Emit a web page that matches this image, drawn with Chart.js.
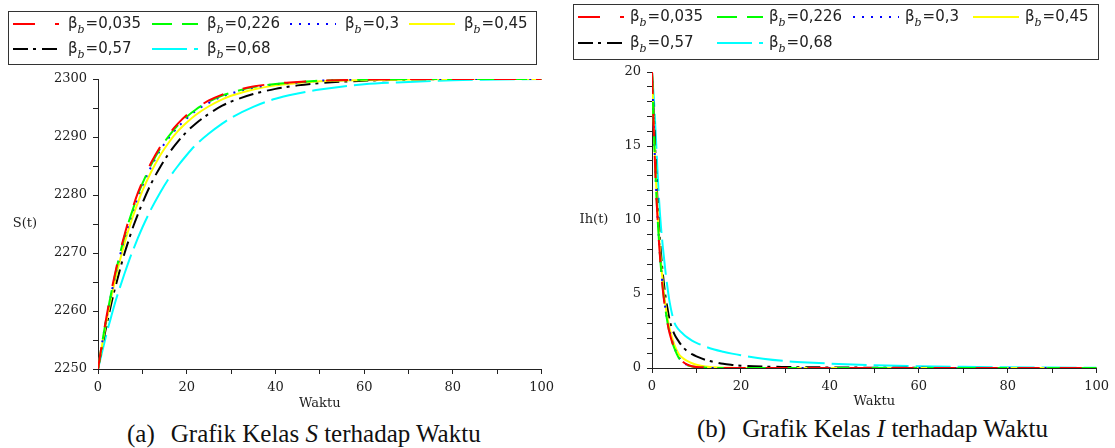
<!DOCTYPE html>
<html>
<head>
<meta charset="utf-8">
<script src="https://cdn.jsdelivr.net/npm/chart.js@4.4.1/dist/chart.umd.min.js"></script>
<style>
    body { margin: 0; background: #fff; width: 1115px; height: 448px; position: relative; overflow: hidden; }
    .kotak { position: absolute; top: 0; }
    .keterangan { position: absolute; font-family: "Liberation Serif", serif; font-size: 25px; color: #111; white-space: nowrap; }
    .keterangan span { margin-left: 16px; }
</style>
</head>
<body>
<div class="kotak" style="left:0"><canvas id="grafikS" width="560" height="415"></canvas></div>
<div class="kotak" style="left:560px"><canvas id="grafikI" width="555" height="415"></canvas></div>
<div class="keterangan" style="left:127px;top:420px">(a)<span>Grafik Kelas <i>S</i> terhadap Waktu</span></div>
<div class="keterangan" style="left:697px;top:415px">(b)<span>Grafik Kelas <i>I</i> terhadap Waktu</span></div>

<script>
// nilai beta_b tiap kurva
const nilaiBeta = ['0,035', '0,226', '0,3', '0,45', '0,57', '0,68'];

// waktu dan S(t)
const waktuS = [0, 1, 2, 3, 4, 5, 6, 7, 8, 9, 10, 12, 14, 16, 18, 20, 22, 25, 28, 30, 35, 40, 45, 50, 60, 70, 80, 90, 100];
const sBeta035 = [2250, 2254.9, 2259.4, 2263.4, 2267.0, 2270.3, 2273.2, 2275.9, 2278.2, 2280.4, 2282.3, 2285.6, 2288.3, 2290.5, 2292.3, 2293.8, 2294.9, 2296.3, 2297.3, 2297.8, 2298.7, 2299.2, 2299.5, 2299.7, 2299.9, 2300, 2300, 2300, 2300];
const sBeta226 = [2250, 2254.85, 2259.25, 2263.2, 2266.75, 2270.0, 2272.9, 2275.55, 2277.85, 2280.05, 2281.95, 2285.25, 2288.0, 2290.2, 2292.0, 2293.5, 2294.7, 2296.1, 2297.15, 2297.65, 2298.6, 2299.15, 2299.45, 2299.7, 2299.9, 2300, 2300, 2300, 2300];
const sBeta3 = [2250, 2254.8, 2259.1, 2263.0, 2266.5, 2269.7, 2272.6, 2275.2, 2277.5, 2279.7, 2281.6, 2284.9, 2287.7, 2289.9, 2291.7, 2293.2, 2294.5, 2295.9, 2297.0, 2297.5, 2298.5, 2299.1, 2299.4, 2299.7, 2299.9, 2300, 2300, 2300, 2300];
const sBeta45 = [2250, 2254.5, 2258.6, 2262.4, 2265.8, 2268.9, 2271.7, 2274.3, 2276.6, 2278.7, 2280.7, 2284.0, 2286.8, 2289.1, 2291.0, 2292.5, 2293.8, 2295.3, 2296.5, 2297.1, 2298.2, 2298.9, 2299.3, 2299.6, 2299.8, 2299.9, 2300, 2300, 2300];
const sBeta57 = [2250, 2254.1, 2257.8, 2261.3, 2264.4, 2267.3, 2270.0, 2272.4, 2274.7, 2276.7, 2278.6, 2282.0, 2284.8, 2287.2, 2289.2, 2290.9, 2292.3, 2294.0, 2295.4, 2296.1, 2297.4, 2298.3, 2298.9, 2299.3, 2299.7, 2299.9, 2300, 2300, 2300];
const sBeta68 = [2250, 2253.2, 2256.3, 2259.1, 2261.8, 2264.2, 2266.5, 2268.7, 2270.7, 2272.6, 2274.4, 2277.6, 2280.4, 2282.9, 2285.0, 2286.9, 2288.6, 2290.6, 2292.3, 2293.3, 2295.2, 2296.6, 2297.5, 2298.2, 2299.1, 2299.5, 2299.8, 2299.9, 2300];

// waktu dan Ih(t)
const waktuI = [0, 0.5, 1, 1.5, 2, 2.5, 3, 3.5, 4, 5, 6, 7, 8, 9, 10, 12, 14, 16, 18, 20, 25, 30, 35, 40, 50, 60, 70, 80, 90, 100];
const iBeta035 = [20, 15.2, 11.5, 8.8, 6.7, 5.1, 3.9, 3.0, 2.3, 1.35, 0.75, 0.4, 0.22, 0.12, 0.07, 0.02, 0.01, 0, 0, 0, 0, 0, 0, 0, 0, 0, 0, 0, 0, 0];
const iBeta226 = [20, 15.3, 11.6, 8.9, 6.8, 5.2, 4.0, 3.05, 2.3, 1.35, 0.7, 0.35, 0.18, 0.1, 0.05, 0.02, 0, 0, 0, 0, 0, 0, 0, 0, 0, 0, 0, 0, 0, 0];
const iBeta3 = [20, 15.4, 11.7, 9.0, 6.9, 5.3, 4.05, 3.1, 2.4, 1.4, 0.75, 0.38, 0.2, 0.11, 0.06, 0.02, 0, 0, 0, 0, 0, 0, 0, 0, 0, 0, 0, 0, 0, 0];
const iBeta45 = [20, 15.5, 12.0, 9.3, 7.2, 5.6, 4.3, 3.35, 2.6, 1.6, 0.95, 0.65, 0.47, 0.32, 0.22, 0.1, 0.05, 0.02, 0.01, 0, 0, 0, 0, 0, 0, 0, 0, 0, 0, 0];
const iBeta57 = [20, 16.5, 12.8, 9.9, 7.8, 6.2, 4.9, 4.0, 3.2, 2.3, 1.8, 1.4, 1.12, 0.93, 0.78, 0.55, 0.4, 0.28, 0.21, 0.16, 0.1, 0.07, 0.05, 0.04, 0.02, 0.01, 0, 0, 0, 0];
const iBeta68 = [20, 17.8, 14.8, 11.8, 9.6, 8.0, 6.6, 5.4, 4.4, 3.1, 2.6, 2.3, 2.05, 1.85, 1.7, 1.45, 1.25, 1.1, 0.97, 0.86, 0.63, 0.47, 0.37, 0.3, 0.19, 0.12, 0.08, 0.05, 0.03, 0.02];

const warnaGaris = ['#ff0000', '#00ff00', '#0000ff', '#ffff00', '#000000', '#00ffff'];
const polaGaris = [[22, 20], [20, 10], [2, 7], [], [15, 5, 3, 6], [35, 7]];

const warnaTeks = '#222';
const fonTick = { family: '"DejaVu Serif", serif', size: 13 };

// legenda kotak dengan beta subskrip b
const pluginLegenda = {
    id: 'legendaBeta',
    afterDraw(chart, args, opsi) {
        const ctx = chart.ctx;
        ctx.save();
        ctx.strokeStyle = '#333';
        ctx.lineWidth = 1;
        ctx.strokeRect(opsi.kotak[0] + 0.5, opsi.kotak[1] + 0.5, opsi.kotak[2], opsi.kotak[3]);
        ctx.textBaseline = 'middle';
        chart.data.datasets.forEach((d, i) => {
            const x = opsi.kolom[i % 4];
            const y = opsi.baris[Math.floor(i / 4)];
            ctx.beginPath();
            ctx.setLineDash(d.borderDash);
            ctx.strokeStyle = d.borderColor;
            ctx.lineWidth = 2;
            ctx.moveTo(x, y);
            ctx.lineTo(x + opsi.panjang, y);
            ctx.stroke();
            ctx.setLineDash([]);

            let tx = x + opsi.jarak;
            ctx.fillStyle = warnaTeks;
            ctx.font = '15px "DejaVu Sans"';
            ctx.fillText('β', tx, y);
            tx += ctx.measureText('β').width;
            ctx.font = 'italic 11px "DejaVu Serif"';
            ctx.fillText('b', tx, y + 6);
            tx += ctx.measureText('b').width + 1;
            ctx.font = '15px "DejaVu Sans"';
            ctx.fillText('=' + nilaiBeta[i], tx, y);
        });
        ctx.restore();
    }
};

// label sumbu y mendatar
const pluginLabelY = {
    id: 'labelY',
    afterDraw(chart, args, opsi) {
        const ctx = chart.ctx;
        const area = chart.chartArea;
        ctx.save();
        ctx.fillStyle = warnaTeks;
        ctx.font = '13px "DejaVu Serif"';
        ctx.textAlign = 'center';
        ctx.textBaseline = 'middle';
        ctx.fillText(opsi.teks, opsi.x, (area.top + area.bottom) / 2);
        ctx.restore();
    }
};

function buatDataset(waktu, seri) {
    return seri.map((nilai, i) => ({
        label: 'βb=' + nilaiBeta[i],
        data: nilai.map((v, j) => ({ x: waktu[j], y: v })),
        borderColor: warnaGaris[i],
        borderDash: polaGaris[i],
        borderWidth: 2,
        pointRadius: 0,
        fill: false,
        cubicInterpolationMode: 'monotone'
    }));
}

function buatGrafik(canvas, datasets, skala, legenda, labelY, padding) {
    let options = {
        responsive: false,
        animation: false,
        devicePixelRatio: 1,
        layout: { padding: padding },
        plugins: {
            legend: { display: false },
            tooltip: { enabled: false },
            legendaBeta: legenda,
            labelY: labelY
        },
        scales: {
            x: {
                type: 'linear',
                min: 0,
                max: 100,
                border: { color: '#222', width: 1 },
                grid: { drawOnChartArea: false, drawTicks: true, tickLength: 5, color: '#222' },
                ticks: {
                    stepSize: 10,
                    autoSkip: false,
                    maxRotation: 0,
                    padding: 6,
                    color: warnaTeks,
                    font: fonTick,
                    callback: (v) => v % 20 === 0 ? v : ''
                },
                title: {
                    display: true,
                    text: 'Waktu',
                    color: warnaTeks,
                    font: fonTick,
                    padding: { top: 0, bottom: skala.judulBawah }
                },
                afterFit: (s) => { s.height = skala.tinggiX; }
            },
            y: {
                min: skala.min,
                max: skala.max,
                border: { color: '#222', width: 1 },
                grid: { drawOnChartArea: false, drawTicks: true, tickLength: 5, color: '#222' },
                ticks: {
                    stepSize: skala.langkah,
                    autoSkip: false,
                    padding: 6,
                    color: warnaTeks,
                    font: fonTick,
                    callback: (v) => v % skala.label === 0 ? v : ''
                },
                afterFit: (s) => { s.width = skala.lebarY; }
            }
        }
    };

    return new Chart(canvas, {
        type: 'line',
        data: { datasets: datasets },
        options: options,
        plugins: [pluginLegenda, pluginLabelY]
    });
}

buatGrafik(
    document.getElementById('grafikS'),
    buatDataset(waktuS, [sBeta035, sBeta226, sBeta3, sBeta45, sBeta57, sBeta68]),
    { min: 2250, max: 2300, langkah: 5, label: 10, lebarY: 98, tinggiX: 46, judulBawah: 4 },
    { kotak: [8, 11, 528, 53], kolom: [13, 152, 290, 409], baris: [24, 49], panjang: 46, jarak: 55 },
    { teks: 'S(t)', x: 25 },
    { top: 79, right: 17, left: 0, bottom: 0 }
);

buatGrafik(
    document.getElementById('grafikI'),
    buatDataset(waktuI, [iBeta035, iBeta226, iBeta3, iBeta45, iBeta57, iBeta68]),
    { min: 0, max: 20, langkah: 1, label: 5, lebarY: 92, tinggiX: 47, judulBawah: 6 },
    { kotak: [13, 4, 525, 55], kolom: [18, 157, 293, 413], baris: [17, 43], panjang: 46, jarak: 52 },
    { teks: 'Ih(t)', x: 34 },
    { top: 72, right: 10, left: 0, bottom: 0 }
);
</script>
</body>
</html>
